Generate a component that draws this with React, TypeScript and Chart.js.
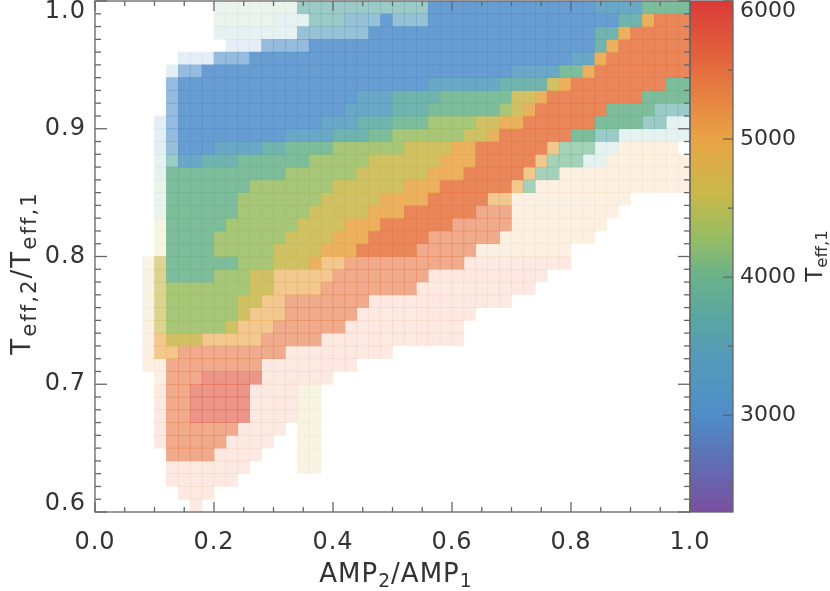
import { useEffect, useRef } from "react";
import { Chart, registerables, type Plugin } from "chart.js";

Chart.register(...registerables);

// axis limits and labelled ticks
const AMP_LIMITS = [0, 1];
const RATIO_LIMITS = [0.6, 1.0];
const TEFF_LIMITS = [2300, 6000];
const AMP_TICKS = [0.0, 0.2, 0.4, 0.6, 0.8, 1.0];
const RATIO_TICKS = [0.6, 0.7, 0.8, 0.9, 1.0];
const TEFF_TICKS = [3000, 4000, 5000, 6000];

// colour table (Teff,1 -> colour)
const CMAP_TEFF = [2300, 2700, 3000, 3400, 3700, 4000, 4300, 4600, 5000, 5500, 6000];
const CMAP_HEX = [
  "#7a4fa0", "#5d72b6", "#4f8dc9", "#5499bb", "#5aa6a2", "#69b28b",
  "#98bd62", "#c8b84a", "#e9a445", "#e46d3e", "#db3a38",
];

// binned picture of the point cloud: 50 bins in AMP2/AMP1, 40 bins in Teff ratio
const AMP_BIN = 0.02;
const RATIO_BIN = 0.01;

// cell code -> typical Teff,1 of the points in it
// UPPER = dense, lower = medium, digit = few points
const CELL_TEFF: Record<string, number> = {
  b: 3000, c: 3350, d: 3700, e: 4000, f: 4300, g: 4600, h: 5000, i: 5450, j: 5800,
  "1": 3000, "2": 3700, "3": 4100, "4": 4600, "5": 5100, "6": 5500,
};

// rows from ratio 1.00 (top) down to 0.60, run-length "count*code"
const CELL_ROWS = [
  "10*. 7*3 11*d 14*B 4*C 4*E",
  "10*. 5*3 3*2 3*d 3*c 1*B 3*c 16*B 2*D 1*H 3*I",
  "10*. 7*2 6*c 19*B 2*D 1*H 5*I",
  "11*. 3*1 4*b 24*B 1*D 1*H 6*I",
  "7*. 3*1 3*b 27*B 2*C 1*H 7*I",
  "6*. 1*1 2*b 26*B 4*C 2*E 1*H 8*I",
  "6*. 1*b 21*B 6*C 4*D 1*G 1*H 8*I 2*E",
  "6*. 1*b 15*B 3*C 4*D 6*E 2*G 1*H 8*I 4*E",
  "6*. 1*b 14*B 4*C 3*D 6*E 1*F 1*G 1*H 6*I 4*E 3*d",
  "5*. 1*1 1*b 12*B 3*C 3*D 3*E 4*F 2*G 2*H 6*I 4*E 2*d 2*2",
  "5*. 1*1 1*b 9*B 4*C 3*D 2*E 6*F 2*G 1*H 6*I 2*E 2*d 6*2",
  "5*. 1*1 1*c 3*B 4*C 2*D 4*E 6*F 4*G 2*H 6*I 1*h 3*e 2*2 5*5",
  "5*. 1*2 1*d 2*C 3*D 6*E 5*F 6*G 3*H 5*I 1*h 3*e 2*2 7*5",
  "5*. 1*2 10*E 6*F 6*G 3*H 5*I 1*h 2*e 11*5",
  "5*. 1*3 7*E 7*F 6*G 3*H 6*I 1*h 1*e 13*5",
  "5*. 1*3 6*E 7*F 5*G 4*H 5*I 2*h 10*5 5*.",
  "5*. 1*3 6*E 6*F 5*G 3*H 6*I 3*i 9*5 6*.",
  "5*. 1*4 5*E 6*F 4*G 3*H 6*I 5*i 8*5 7*.",
  "5*. 1*4 4*E 6*F 4*G 3*H 5*I 6*i 8*5 8*.",
  "5*. 1*4 4*E 5*F 4*G 3*H 5*I 5*i 8*5 10*.",
  "4*. 1*4 1*g 6*E 3*F 3*G 1*H 2*h 10*i 9*6 10*.",
  "4*. 1*4 1*g 4*E 3*F 2*G 5*h 8*i 10*6 12*.",
  "4*. 1*4 1*g 7*F 2*G 4*h 8*i 10*6 13*.",
  "4*. 1*4 1*g 6*F 2*G 2*h 7*i 12*6 15*.",
  "4*. 1*4 1*g 6*F 1*G 3*h 6*i 10*6 18*.",
  "4*. 1*5 1*g 5*F 1*G 3*h 6*i 10*6 19*.",
  "4*. 1*5 1*h 3*G 5*h 5*i 12*6 19*.",
  "4*. 1*5 2*h 9*i 9*6 25*.",
  "4*. 2*5 8*i 8*6 28*.",
  "5*. 1*5 3*i 5*j 6*6 30*.",
  "5*. 1*6 2*i 5*j 4*6 2*4 31*.",
  "5*. 1*6 2*i 5*j 4*6 2*4 31*.",
  "5*. 1*6 2*i 5*j 4*6 2*4 31*.",
  "5*. 1*6 6*i 4*6 1*. 2*4 31*.",
  "5*. 1*6 5*i 4*6 2*. 2*4 31*.",
  "6*. 4*i 4*6 3*. 2*4 31*.",
  "6*. 7*6 4*. 2*4 31*.",
  "6*. 6*6 38*.",
  "7*. 3*6 40*.",
  "8*. 1*6 41*.",
];

const INK = "#333333";
const AXIS = "#666666";
const FONT = "'DejaVu Sans', sans-serif";

function hexToRgb(h: string) {
  const n = parseInt(h.slice(1), 16);
  return [(n >> 16) & 255, (n >> 8) & 255, n & 255];
}

function teffColor(t: number, a: number) {
  let i = 0;
  while (i < CMAP_TEFF.length - 2 && t > CMAP_TEFF[i + 1]) i++;
  const f = Math.min(1, Math.max(0, (t - CMAP_TEFF[i]) / (CMAP_TEFF[i + 1] - CMAP_TEFF[i])));
  const c0 = hexToRgb(CMAP_HEX[i]);
  const c1 = hexToRgb(CMAP_HEX[i + 1]);
  const rgb = c0.map((v, j) => Math.round(v + (c1[j] - v) * f));
  return `rgba(${rgb.join(",")},${a})`;
}

function cellAlpha(code: string) {
  if (/[0-9]/.test(code)) return 0.15;
  if (code === code.toLowerCase()) return 0.6;
  return 0.86;
}

function decodeRow(row: string) {
  const s = row
    .split(" ")
    .map((run) => {
      const [n, c] = run.split("*");
      return c.repeat(Number(n));
    })
    .join("");
  return s.padEnd(50, ".").slice(0, 50);
}

function buildDatasets() {
  return CELL_ROWS.map((row, r) => {
    const cells = decodeRow(row);
    const hi = RATIO_LIMITS[1] - r * RATIO_BIN;
    const lo = hi - RATIO_BIN;
    const data: { x: number; y: number[]; code: string }[] = [];
    for (let k = 0; k < cells.length; k++) {
      if (cells[k] === ".") continue;
      data.push({ x: (k + 0.5) * AMP_BIN, y: [lo, hi], code: cells[k] });
    }
    return {
      label: `row ${r}`,
      data,
      borderWidth: 0,
      backgroundColor: (ctx: any) => {
        const code = ctx.raw?.code;
        if (!code) return "rgba(0,0,0,0)";
        return teffColor(CELL_TEFF[code.toLowerCase()], cellAlpha(code));
      },
    };
  });
}

const framePlugin: Plugin = {
  id: "frame",
  afterDraw(chart) {
    const { ctx, chartArea: a, scales } = chart;
    const xs = scales.x;
    const ys = scales.y;
    const ts = scales.teff;
    const cbL = a.right;
    const cbR = a.right + 43;
    ctx.save();

    // colour bar
    const g = ctx.createLinearGradient(
      0, ts.getPixelForValue(TEFF_LIMITS[0]), 0, ts.getPixelForValue(TEFF_LIMITS[1])
    );
    CMAP_TEFF.forEach((t, i) =>
      g.addColorStop((t - TEFF_LIMITS[0]) / (TEFF_LIMITS[1] - TEFF_LIMITS[0]), CMAP_HEX[i])
    );
    ctx.fillStyle = g;
    ctx.fillRect(cbL, a.top, cbR - cbL, a.bottom - a.top);

    ctx.strokeStyle = AXIS;
    ctx.lineWidth = 1.3;
    const line = (x1: number, y1: number, x2: number, y2: number) => {
      ctx.beginPath();
      ctx.moveTo(x1, y1);
      ctx.lineTo(x2, y2);
      ctx.stroke();
    };

    // x ticks (bottom and top), every 0.05
    for (let v = 0; v <= 20; v++) {
      const px = xs.getPixelForValue(v * 0.05);
      const len = v % 4 === 0 ? 10 : 5;
      line(px, a.bottom, px, a.bottom - len);
      line(px, a.top, px, a.top + len);
    }
    // y ticks (left and right), every 0.01
    for (let v = 0; v <= 40; v++) {
      const py = ys.getPixelForValue(0.6 + v * 0.01);
      const len = v % 10 === 0 ? 12 : 6;
      line(a.left, py, a.left + len, py);
      line(a.right, py, a.right - len, py);
    }
    // colour bar ticks, every 500 K
    for (let t = 2500; t <= 6000; t += 500) {
      const py = ts.getPixelForValue(t);
      const len = t % 1000 === 0 ? 10 : 5;
      line(cbR, py, cbR - len, py);
    }

    ctx.strokeRect(a.left, a.top, a.right - a.left, a.bottom - a.top);
    ctx.strokeRect(cbL, a.top, cbR - cbL, a.bottom - a.top);

    // tick labels
    ctx.fillStyle = INK;
    ctx.font = `24px ${FONT}`;
    (ctx as any).letterSpacing = "1px";
    ctx.textBaseline = "middle";

    ctx.textAlign = "center";
    AMP_TICKS.forEach((v) => ctx.fillText(v.toFixed(1), xs.getPixelForValue(v), a.bottom + 31));

    ctx.textAlign = "right";
    RATIO_TICKS.forEach((v) => {
      const py = Math.min(Math.max(ys.getPixelForValue(v), a.top + 11), a.bottom - 8);
      ctx.fillText(v.toFixed(1), a.left - 9, py);
    });

    ctx.font = `22px ${FONT}`;
    (ctx as any).letterSpacing = "0px";
    ctx.textAlign = "left";
    TEFF_TICKS.forEach((t) => {
      const py = Math.min(Math.max(ts.getPixelForValue(t), a.top + 10), a.bottom - 8);
      ctx.fillText(String(t), cbR + 7, py);
    });
    ctx.restore();
  },
};

const subStyle = { fontSize: "0.72em", verticalAlign: "-0.28em", lineHeight: 0 } as const;
const bigSub = { fontSize: "0.82em", verticalAlign: "-0.3em", lineHeight: 0 } as const;

export default function App() {
  const canvasRef = useRef<HTMLCanvasElement>(null);
  const chartRef = useRef<Chart | null>(null);

  useEffect(() => {
    if (!canvasRef.current) return;
    chartRef.current?.destroy();
    chartRef.current = new Chart(canvasRef.current, {
      type: "bar",
      data: { datasets: buildDatasets() as any },
      options: {
        animation: false,
        responsive: false,
        maintainAspectRatio: false,
        events: [],
        layout: { padding: { left: 95, right: 140, top: 1, bottom: 79 } },
        plugins: { legend: { display: false }, tooltip: { enabled: false } },
        datasets: {
          bar: { grouped: false, barPercentage: 1, categoryPercentage: 1, borderWidth: 0 },
        },
        scales: {
          x: { type: "linear", min: AMP_LIMITS[0], max: AMP_LIMITS[1], offset: false, display: false },
          y: { type: "linear", min: RATIO_LIMITS[0], max: RATIO_LIMITS[1], display: false },
          teff: { type: "linear", min: TEFF_LIMITS[0], max: TEFF_LIMITS[1], display: false, position: "right" },
        },
      },
      plugins: [framePlugin],
    });
    return () => {
      chartRef.current?.destroy();
      chartRef.current = null;
    };
  }, []);

  return (
    <div
      style={{
        position: "fixed", left: 0, top: 0, width: 830, height: 591,
        background: "#fff", color: INK, fontFamily: FONT, overflow: "hidden",
      }}
    >
      <canvas
        ref={canvasRef}
        width={830}
        height={591}
        style={{ position: "absolute", left: 0, top: 0, width: 830, height: 591 }}
      />
      {/* x title */}
      <div
        style={{
          position: "absolute", left: 196, top: 558, width: 400, textAlign: "center",
          fontSize: 26, lineHeight: "30px", letterSpacing: 1,
        }}
      >
        AMP<sub style={subStyle}>2</sub>/AMP<sub style={subStyle}>1</sub>
      </div>
      {/* y title */}
      <div
        style={{
          position: "absolute", left: 21 - 150, top: 273 - 15, width: 300, height: 30,
          lineHeight: "30px", textAlign: "center", fontSize: 26, letterSpacing: 2,
          transform: "rotate(-90deg)", whiteSpace: "nowrap",
        }}
      >
        T<sub style={bigSub}>eff,2</sub>/T<sub style={bigSub}>eff,1</sub>
      </div>
      {/* colour bar title */}
      <div
        style={{
          position: "absolute", left: 814 - 60, top: 256 - 15, width: 120, height: 30,
          lineHeight: "30px", textAlign: "center", fontSize: 23,
          transform: "rotate(-90deg)", whiteSpace: "nowrap",
        }}
      >
        T<sub style={subStyle}>eff,1</sub>
      </div>
    </div>
  );
}
